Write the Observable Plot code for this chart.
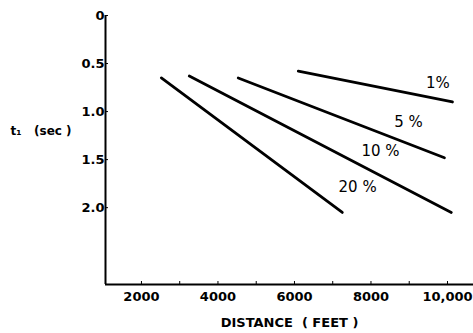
<!DOCTYPE html>
<html>
<head>
<meta charset="utf-8">
<script src="https://cdn.jsdelivr.net/npm/d3@7"></script>
<script src="https://cdn.jsdelivr.net/npm/@observablehq/plot@0.6"></script>
<style>
  html, body { margin: 0; padding: 0; background: #fff; }
  svg { display: block; }
</style>
</head>
<body>
<div id="chart"></div>
<script>
// Series: slope lines of t1 vs distance for different percentages
const seriesNames = ["1%", "5%", "10%", "20%"];
const seriesLabels = ["1%", "5 %", "10 %", "20 %"];
const seriesX0 = [6100, 4530, 3250, 2520];
const seriesY0 = [0.58, 0.65, 0.63, 0.65];
const seriesX1 = [10130, 9920, 10100, 7250];
const seriesY1 = [0.90, 1.48, 2.05, 2.05];
// label anchor points (data space)
const labelX = [9750, 8980, 8250, 7650];
const labelY = [0.70, 1.11, 1.41, 1.79];

const xDomain = [1060, 10680];
const yDomain = [0, 2.8];
const xTicks = [2000, 4000, 6000, 8000, 10000];
const xTickLabels = ["2000", "4000", "6000", "8000", "10,000"];
const xMinorTicks = [3000, 5000, 7000, 9000];
const yTicks = [0, 0.5, 1.0, 1.5, 2.0];
const yTickLabels = ["0", "0.5", "1.0", "1.5", "2.0"];
const xAxisLabel = "DISTANCE  ( FEET )";
const yAxisLabel = "t\u2081   (sec )";
const yAxisLabelAt = 1.2;

const lines = [];
seriesNames.forEach((s, i) => {
  lines.push({series: s, x: seriesX0[i], y: seriesY0[i]});
  lines.push({series: s, x: seriesX1[i], y: seriesY1[i]});
});
const labels = seriesNames.map((s, i) => ({label: seriesLabels[i], x: labelX[i], y: labelY[i]}));

const font = "DejaVu Sans, sans-serif";

const chart = Plot.plot({
  width: 473,
  height: 333,
  marginLeft: 105,
  marginRight: 0,
  marginTop: 15,
  marginBottom: 49,
  style: {fontFamily: font, fontSize: "13px", fontWeight: "bold", color: "#000", background: "#fff"},
  x: {type: "linear", domain: xDomain},
  y: {type: "linear", domain: yDomain, reverse: true},
  marks: [
    Plot.ruleX([xDomain[0]], {stroke: "#000", strokeWidth: 2}),
    Plot.ruleY([yDomain[1]], {stroke: "#000", strokeWidth: 2}),
    Plot.axisY({
      ticks: yTicks,
      tickFormat: (d) => yTickLabels[yTicks.indexOf(d)],
      tickSize: -3,
      tickPadding: 4,
      label: null,
      fontSize: 13,
      fontWeight: "bold"
    }),
    Plot.axisX({
      ticks: xTicks,
      tickFormat: (d) => xTickLabels[xTicks.indexOf(d)],
      tickSize: -3,
      tickPadding: 10,
      label: xAxisLabel,
      labelAnchor: "center",
      labelArrow: "none",
      labelOffset: 42,
      fontSize: 13,
      fontWeight: "bold"
    }),
    Plot.axisX({
      ticks: xMinorTicks,
      tickFormat: () => "",
      tickSize: -3,
      label: null
    }),
    Plot.line(lines, {x: "x", y: "y", z: "series", stroke: "#000", strokeWidth: 2.8, strokeLinecap: "round"}),
    Plot.text(labels, {x: "x", y: "y", text: "label", fontSize: 15, fontWeight: "normal", fill: "#000"}),
    Plot.text([yAxisLabel], {frameAnchor: "left", y: () => yAxisLabelAt, dx: -95, textAnchor: "start", fontSize: 12, fontWeight: "bold", fill: "#000"})
  ]
});
document.getElementById("chart").appendChild(chart);
</script>
</body>
</html>
